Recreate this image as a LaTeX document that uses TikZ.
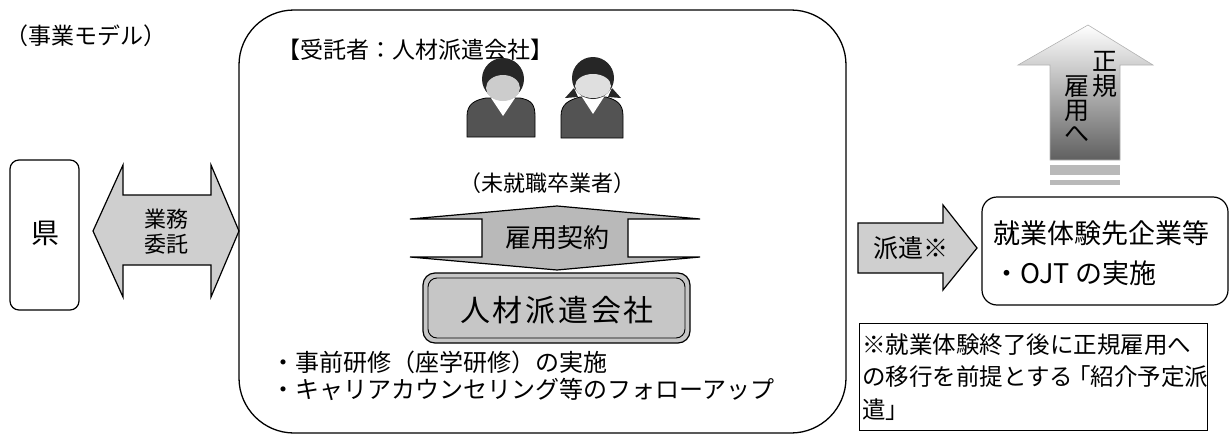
\documentclass[tikz,border=0pt]{standalone}
\usepackage{fontspec}
\setmainfont{Noto Sans CJK JP}
\newcommand{\fs}[1]{\fontsize{#1}{#1}\selectfont}
\tikzset{
  lbl/.style={inner sep=0pt, font=\fs{23}},
  outline/.style={draw=black, line width=1.2pt},
  blockarrow/.style={outline, fill=gray!38},
  personbody/.style={fill=gray!65!black, draw=black, line width=0.8pt},
  personface/.style={fill=gray!40},
}
\begin{document}
\begin{tikzpicture}[x=1pt,y=-1pt]
\useasboundingbox (0,0) rectangle (1232,434);

% heading
\node[lbl, anchor=west] (title) at (5,36) {（事業モデル）};

% prefecture
\draw[outline, rounded corners=9] (10,160) rectangle (79,310);
\node[lbl, font=\fs{28}] (pref) at (45,233) {県};

% two-way arrow: outsourcing
\path[blockarrow] (93,231) -- (123,165) -- (123,195) -- (211,195) -- (211,165)
  -- (239,231) -- (211,297) -- (211,265) -- (123,265) -- (123,297) -- cycle;
\node[lbl, font=\fs{22}, align=center] (itaku) at (166,232) {業務\\[3pt]委託};

% contractor frame
\draw[line width=1.3pt, rounded corners=55] (239,10) rectangle (846,433);
\node[lbl, anchor=west] (contractor) at (277,50) {【受託者：人材派遣会社】};

% graduates (two figures)
% male
\path[personbody] (467,137) -- (467,116) .. controls (467,104) and (475,100) .. (486,98)
  -- (520,98) .. controls (531,100) and (535,104) .. (535,116) -- (535,137) -- cycle;
\fill[white] (491,98) -- (503,116) -- (515,98) -- cycle;
\fill[black!85] (503,79) circle (21);
\fill[personface] (503,88) ellipse (17 and 13);
% female
\path[personbody] (561,138) -- (561,116) .. controls (561,104) and (569,100) .. (580,97)
  -- (606,97) .. controls (617,100) and (623,104) .. (623,116) -- (623,138) -- cycle;
\fill[white] (582,97) -- (593,114) -- (604,97) -- cycle;
\fill[black!85] (593,78) circle (21);
\fill[black!85] (574,88) -- (565,98) -- (578,97) -- cycle;
\fill[black!85] (612,88) -- (621,98) -- (608,97) -- cycle;
\fill[gray!25] (593,86) ellipse (18 and 12);
\node[lbl, font=\fs{22}] (grads) at (547,183) {（未就職卒業者）};

% employment contract (up-down arrow)
\path[outline, fill=gray!55] (557,206) -- (700,219) -- (628,219) -- (628,257) -- (700,257)
  -- (557,270) -- (410,257) -- (482,257) -- (482,219) -- (410,219) -- cycle;
\node[lbl, font=\fs{26}] (contract) at (557,238) {雇用契約};

% staffing agency
\draw[outline, fill=gray!45, rounded corners=12] (423,273) rectangle (690,343);
\draw[line width=0.9pt, rounded corners=9] (428,278) rectangle (685,338);
\node[lbl, font=\fs{30}\addfontfeatures{LetterSpace=9}] (agency) at (557,310) {人材派遣会社};

% training items
\node[lbl, font=\fs{24}, anchor=west] (item1) at (271,362) {・事前研修（座学研修）の実施};
\node[lbl, font=\fs{24}, anchor=west] (item2) at (271,389) {・キャリアカウンセリング等のフォローアップ};

% dispatch arrow
\path[blockarrow] (858,223) -- (943,223) -- (943,205) -- (977,248) -- (943,290)
  -- (943,273) -- (858,273) -- cycle;
\node[lbl, font=\fs{25}] (dispatch) at (911,248) {派遣※};

% host company
\draw[outline, rounded corners=15] (982,197) rectangle (1228,305);
\node[lbl, font=\fs{27}, anchor=west] (host) at (993,233) {就業体験先企業等};
\node[lbl, font=\fs{27}, anchor=west] (ojt) at (993,273) {・OJT の実施};

% towards regular employment (up arrow)
\shade[top color=white, bottom color=gray!75!black, draw=gray!60, line width=0.6pt]
  (1088,25) -- (1153,65) -- (1120,65) -- (1120,160) -- (1050,160) -- (1050,65)
  -- (1018,65) -- cycle;
\fill[gray!55] (1050,165) rectangle (1120,175);
\fill[gray!55] (1050,180) rectangle (1120,185);
\node[lbl, font=\fs{25}] (sei) at (1105,61) {正};
\node[lbl, font=\fs{25}] (ki) at (1105,86) {規};
\node[lbl, font=\fs{25}] (ko) at (1077,87) {雇};
\node[lbl, font=\fs{25}] (yo) at (1077,111) {用};
\node[lbl, font=\fs{25}] (he) at (1077,134) {へ};

% footnote
\draw[line width=0.8pt] (859,323) rectangle (1207,430);
\node[lbl, font=\fs{23.5}, anchor=west] (note1) at (862,345) {※就業体験終了後に正規雇用へ};
\node[lbl, font=\fs{23.5}, anchor=west] (note2) at (862,377) {の移行を前提とする\kern-6pt「紹介予定派};
\node[lbl, font=\fs{23.5}, anchor=west] (note3) at (862,410) {遣」};
\end{tikzpicture}
\end{document}
